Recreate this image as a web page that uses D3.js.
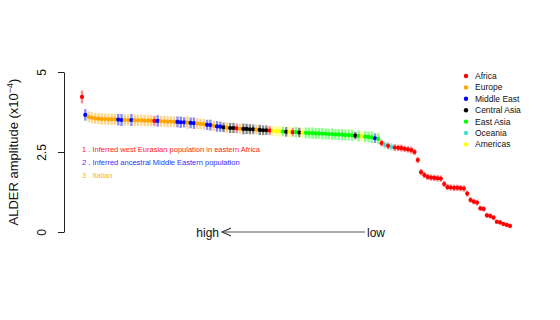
<!DOCTYPE html>
<html>
<head>
<meta charset="utf-8">
<script src="https://cdn.jsdelivr.net/npm/d3@7"></script>
<style>
  body { margin: 0; background: #fff; }
  svg { font-family: "Liberation Sans", Arial, sans-serif; }
</style>
</head>
<body>
<script>
// region of each population, ordered by amplitude (high -> low)
var regionCodes = ("AMEEEEEEEEEMMEEMEEEEEEAMEEEEEMMMEMMEEEMMEMMCECCAECCCCECCCAYYYGCYAGCY" +
  "GGGGGGGGGGGGGGGCGYGGGMGAOAOAAAAAAAAAAAAAAAAAAAAAAAAAAAAAAAAAAAAA").split("");

var amplitudes = [
  4.22, 3.66, 3.60, 3.57, 3.55, 3.54, 3.53, 3.53, 3.52, 3.52,
  3.52, 3.51, 3.50, 3.50, 3.50, 3.50, 3.49, 3.49, 3.49, 3.48,
  3.48, 3.48, 3.47, 3.47, 3.46, 3.46, 3.45, 3.45, 3.44, 3.44,
  3.43, 3.43, 3.42, 3.41, 3.40, 3.39, 3.38, 3.37, 3.35, 3.34,
  3.32, 3.30, 3.29, 3.27, 3.26, 3.25, 3.25, 3.24, 3.23, 3.22,
  3.22, 3.21, 3.21, 3.20, 3.19, 3.18, 3.18, 3.17, 3.16, 3.15,
  3.15, 3.14, 3.13, 3.13, 3.12, 3.12, 3.11, 3.10, 3.10, 3.09,
  3.09, 3.08, 3.08, 3.07, 3.07, 3.06, 3.06, 3.05, 3.05, 3.04,
  3.03, 3.03, 3.02, 3.01, 3.00, 2.99, 2.98, 2.97, 2.96, 2.93,
  2.91, 2.78, 2.72, 2.69, 2.66, 2.64, 2.63, 2.62, 2.60, 2.58,
  2.56, 2.50, 2.25, 1.87, 1.78, 1.72, 1.70, 1.69, 1.68, 1.67,
  1.50, 1.40, 1.39, 1.38, 1.38, 1.37, 1.36, 1.20, 1.00, 0.95,
  0.92, 0.74, 0.72, 0.52, 0.50, 0.45, 0.32, 0.30, 0.25, 0.22,
  0.19
];

// standard errors (half length of the bars)
var errors = [
  0.20, 0.18, 0.17, 0.17, 0.17, 0.17, 0.18, 0.17, 0.17, 0.18,
  0.17, 0.18, 0.19, 0.17, 0.17, 0.19, 0.17, 0.18, 0.17, 0.18,
  0.17, 0.17, 0.16, 0.18, 0.17, 0.17, 0.18, 0.17, 0.17, 0.17,
  0.18, 0.16, 0.20, 0.17, 0.18, 0.17, 0.16, 0.17, 0.16, 0.17,
  0.16, 0.17, 0.16, 0.15, 0.17, 0.16, 0.16, 0.15, 0.16, 0.17,
  0.16, 0.16, 0.15, 0.15, 0.16, 0.15, 0.15, 0.14, 0.15, 0.16,
  0.17, 0.15, 0.15, 0.17, 0.14, 0.17, 0.15, 0.16, 0.17, 0.17,
  0.18, 0.17, 0.17, 0.18, 0.17, 0.17, 0.18, 0.17, 0.17, 0.18,
  0.17, 0.17, 0.18, 0.12, 0.17, 0.16, 0.17, 0.17, 0.18, 0.15,
  0.17, 0.11, 0.12, 0.11, 0.12, 0.11, 0.10, 0.11, 0.10, 0.10,
  0.11, 0.10, 0.10, 0.10, 0.10, 0.10, 0.10, 0.10, 0.10, 0.10,
  0.10, 0.10, 0.10, 0.10, 0.10, 0.10, 0.10, 0.10, 0.09, 0.09,
  0.09, 0.08, 0.08, 0.08, 0.08, 0.08, 0.07, 0.07, 0.07, 0.07,
  0.07
];

var regionNames = ["Africa", "Europe", "Middle East", "Central Asia", "East Asia", "Oceania", "Americas"];
var regionKeys = ["A", "E", "M", "C", "G", "O", "Y"];
var regionColors = ["#ff0000", "#ffa500", "#0000ff", "#000000", "#00ff00", "#40e0d0", "#ffff00"];

var yTicks = [0, 2.5, 5];

var notes = [
  "1 . Inferred west Eurasian population in eastern Africa",
  "2 . Inferred ancestral Middle Eastern population",
  "3 . Italian"
];
var noteColors = ["#ff2020", "#3030ff", "#ffb030"];

var width = 560, height = 320;

var svg = d3.select("body").append("svg")
  .attr("width", width).attr("height", height);

var x = d3.scaleLinear().domain([0, amplitudes.length - 1]).range([82, 510]);
var y = d3.scaleLinear().domain([0, 5]).range([232, 72]);
var color = d3.scaleOrdinal().domain(regionKeys).range(regionColors);

var data = amplitudes.map(function(v, i) {
  return { i: i, v: v, e: errors[i], r: regionCodes[i] };
});

// y axis
var yAxis = svg.append("g")
  .attr("transform", "translate(64,0)")
  .call(d3.axisLeft(y).tickValues(yTicks).tickSize(6).tickSizeOuter(0)
    .tickFormat(function(d) { return d === 2.5 ? "2.5" : d; }));
yAxis.select(".domain").attr("stroke", "#222");
yAxis.selectAll(".tick line").attr("stroke", "#222");
yAxis.selectAll(".tick text")
  .attr("font-size", 12)
  .attr("fill", "#111")
  .attr("text-anchor", "middle")
  .attr("x", 0).attr("dy", 0)
  .attr("transform", "translate(-18,0) rotate(-90)");

// y label
var ylab = svg.append("text")
  .attr("transform", "translate(18,152) rotate(-90)")
  .attr("text-anchor", "middle")
  .attr("font-size", 13)
  .attr("fill", "#111");
ylab.append("tspan").text("ALDER amplitude (x10");
ylab.append("tspan").attr("dy", -5).attr("font-size", 9).text("\u22124");
ylab.append("tspan").attr("dy", 5).text(")");

// error bars
svg.append("g").selectAll("line")
  .data(data).enter().append("line")
  .attr("x1", function(d) { return x(d.i); })
  .attr("x2", function(d) { return x(d.i); })
  .attr("y1", function(d) { return y(d.v - d.e); })
  .attr("y2", function(d) { return y(d.v + d.e); })
  .attr("stroke", function(d) { return color(d.r); })
  .attr("stroke-width", 2.4)
  .attr("stroke-opacity", 0.45);

// points
svg.append("g").selectAll("circle")
  .data(data).enter().append("circle")
  .attr("cx", function(d) { return x(d.i); })
  .attr("cy", function(d) { return y(d.v); })
  .attr("r", 2.1)
  .attr("fill", function(d) { return color(d.r); });

// legend
var leg = svg.append("g").selectAll("g")
  .data(regionNames).enter().append("g")
  .attr("transform", function(d, i) { return "translate(466," + (76 + i * 11.4) + ")"; });
leg.append("circle").attr("r", 2.2)
  .attr("fill", function(d, i) { return regionColors[i]; });
leg.append("text").attr("x", 9).attr("dy", "0.35em")
  .attr("font-size", 8.5).attr("fill", "#111")
  .text(function(d) { return d; });

// notes
svg.append("g").selectAll("text")
  .data(notes).enter().append("text")
  .attr("x", 82)
  .attr("y", function(d, i) { return 152 + i * 13; })
  .attr("font-size", 7.5)
  .attr("fill", function(d, i) { return noteColors[i]; })
  .text(function(d) { return d; });

// high <---- low arrow
svg.append("defs").append("marker")
  .attr("id", "ah").attr("viewBox", "0 0 10 10")
  .attr("refX", 9).attr("refY", 5)
  .attr("markerWidth", 10).attr("markerHeight", 10)
  .attr("markerUnits", "userSpaceOnUse")
  .attr("orient", "auto")
  .append("path").attr("d", "M0,1 L9,5 L0,9")
  .attr("fill", "none").attr("stroke", "#444").attr("stroke-width", 1.2);
svg.append("line")
  .attr("x1", 365).attr("x2", 222).attr("y1", 232).attr("y2", 232)
  .attr("stroke", "#555").attr("stroke-width", 1.2)
  .attr("marker-end", "url(#ah)");
svg.append("text").attr("x", 219).attr("y", 236.5)
  .attr("text-anchor", "end").attr("font-size", 12).attr("fill", "#111").text("high");
svg.append("text").attr("x", 367).attr("y", 236.5)
  .attr("font-size", 12).attr("fill", "#111").text("low");
</script>
</body>
</html>
